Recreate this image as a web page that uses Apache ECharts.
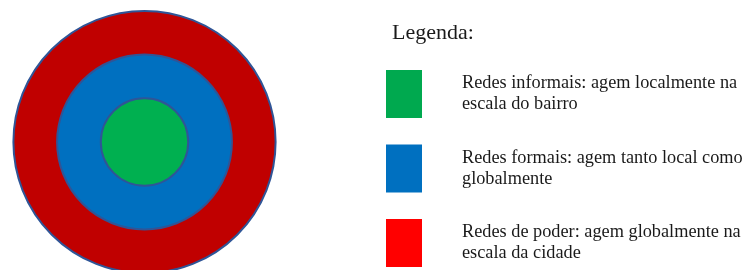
<!DOCTYPE html>
<html>
<head>
<meta charset="utf-8">
<script src="https://cdn.jsdelivr.net/npm/echarts@6/dist/echarts.min.js"></script>
<style>
html, body { margin: 0; padding: 0; background: #fff; }
#chart { width: 751px; height: 270px; }
</style>
</head>
<body>
<div id="chart"></div>
<script>
// categorias (do centro para fora)
var categories = [
	'Redes informais: agem localmente na\nescala do bairro',
	'Redes formais: agem tanto local como\nglobalmente',
	'Redes de poder: agem globalmente na\nescala da cidade'
];
// nivel de cada anel (raio relativo)
var levels = [1, 2, 3];
var legendTitle = 'Legenda:';

var ringColors = ['#00B050', '#0070C0', '#C00000'];
var legendColors = ['#00A94F', '#0070C0', '#FF0000'];
var unit = 43.7;
var center = [144.5, 142];
var font = 'Liberation Serif';

var chart = echarts.init(document.getElementById('chart'));

// do maior para o menor, para o verde ficar por cima
var series = [];
for (var i = levels.length - 1; i >= 0; i--) {
	series.push({
		type: 'pie',
		name: categories[i],
		center: center,
		radius: [0, levels[i] * unit],
		silent: true,
		animation: false,
		label: { show: false },
		labelLine: { show: false },
		emphasis: { disabled: true },
		itemStyle: {
			color: ringColors[i],
			borderColor: '#2F5597',
			borderWidth: 2
		},
		data: [{ name: categories[i], value: 1 }]
	});
}

var legendData = [];
for (var j = 0; j < categories.length; j++) {
	legendData.push({
		name: categories[j],
		icon: 'rect',
		itemStyle: { color: legendColors[j], borderWidth: 0 }
	});
}

var option = {
	title: {
		text: legendTitle,
		left: 392,
		top: 22,
		padding: 0,
		textStyle: { fontFamily: font, fontSize: 22, fontWeight: 'normal', color: '#1a1a1a' }
	},
	legend: {
		orient: 'vertical',
		left: 386,
		top: 70,
		height: 400,
		padding: 0,
		itemWidth: 36,
		itemHeight: 48,
		itemGap: 26.5,
		selectedMode: false,
		data: legendData,
		textStyle: {
			fontFamily: font,
			fontSize: 18.3,
			lineHeight: 21,
			color: '#1a1a1a',
			padding: [0, 0, 0, 35]
		}
	},
	series: series
};

chart.setOption(option);
</script>
</body>
</html>
